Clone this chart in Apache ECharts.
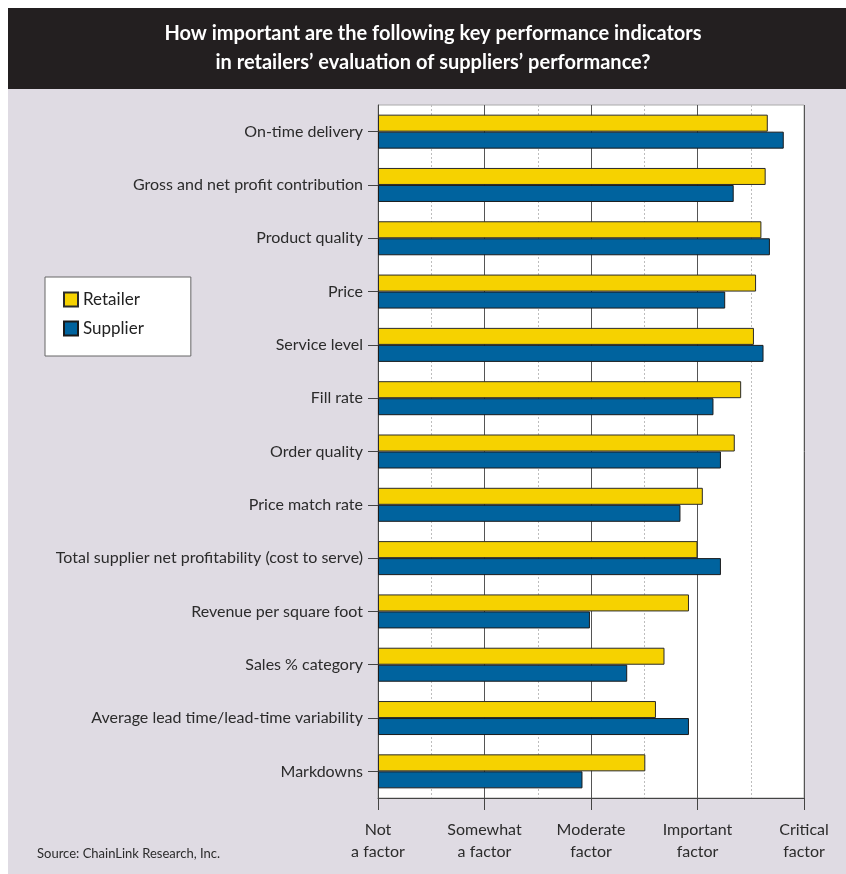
<!DOCTYPE html>
<html>
<head>
<meta charset="utf-8">
<script src="https://cdn.jsdelivr.net/npm/echarts@6/dist/echarts.min.js"></script>
<style>
  html, body { margin: 0; padding: 0; background: #fff; }
  #main { width: 846px; height: 874px; }
</style>
</head>
<body>
<div id="main"></div>
<script>
// data (0 = Not a factor ... 4 = Critical factor)
var categories = [
    'On-time delivery',
    'Gross and net profit contribution',
    'Product quality',
    'Price',
    'Service level',
    'Fill rate',
    'Order quality',
    'Price match rate',
    'Total supplier net profitability (cost to serve)',
    'Revenue per square foot',
    'Sales % category',
    'Average lead time/lead-time variability',
    'Markdowns'
];
var retailer = [3.66, 3.64, 3.60, 3.55, 3.53, 3.41, 3.35, 3.05, 3.00, 2.92, 2.69, 2.61, 2.51];
var supplier = [3.81, 3.34, 3.68, 3.26, 3.62, 3.15, 3.22, 2.84, 3.22, 1.99, 2.34, 2.92, 1.92];
var scaleLabels = ['Not\na factor', 'Somewhat\na factor', 'Moderate\nfactor', 'Important\nfactor', 'Critical\nfactor'];

var FONT = 'Lato, "DejaVu Sans", sans-serif';
var chart = echarts.init(document.getElementById('main'));

var option = {
    backgroundColor: '#dfdbe3',
    textStyle: { fontFamily: FONT },
    animation: false,
    graphic: [
        { type: 'rect', left: 0, top: 0, shape: { width: 846, height: 8 }, style: { fill: '#fff' } },
        { type: 'rect', left: 0, top: 0, shape: { width: 8, height: 874 }, style: { fill: '#fff' } },
        { type: 'rect', left: 8, top: 8, shape: { width: 838, height: 81 }, style: { fill: '#231f20' } },
        {
            type: 'text', x: 433, y: 19,
            style: {
                text: 'How important are the following key performance indicators\nin retailers\u2019 evaluation of suppliers\u2019 performance?',
                fill: '#fff', font: 'bold 20px ' + FONT, textAlign: 'center', lineHeight: 29
            }
        },
        {
            type: 'text', x: 37, y: 847,
            style: { text: 'Source: ChainLink Research, Inc.', fill: '#2b2b2b', font: '13px ' + FONT }
        }
    ],
    legend: {
        left: 45, top: 277,
        orient: 'vertical',
        icon: 'rect',
        itemWidth: 14, itemHeight: 14, itemGap: 12,
        padding: [14, 47, 19, 18],
        backgroundColor: '#fff',
        borderColor: '#666', borderWidth: 1,
        textStyle: { fontSize: 17, color: '#222', fontFamily: FONT },
        data: ['Retailer', 'Supplier']
    },
    grid: {
        left: 378, right: 42, top: 105, bottom: 76,
        show: true, backgroundColor: '#fff', borderColor: '#aaa', borderWidth: 1
    },
    xAxis: [
        {
            type: 'value', min: 0, max: 4, interval: 1,
            axisLine: { show: true, lineStyle: { color: '#444', width: 1 } },
            axisTick: { show: true, length: 12, lineStyle: { color: '#444' } },
            axisLabel: {
                margin: 21, fontSize: 16, lineHeight: 22, color: '#2b2b2b',
                formatter: function (v) { return scaleLabels[Math.round(v)]; }
            },
            splitLine: { show: true, lineStyle: { color: '#555', width: 1 } }
        },
        {
            type: 'value', min: 0, max: 4, interval: 0.5, position: 'bottom',
            axisLine: { show: false }, axisTick: { show: false }, axisLabel: { show: false },
            splitLine: { show: true, lineStyle: { color: ['rgba(0,0,0,0)', '#bdbdbd'], type: [2, 2], width: 1 } }
        }
    ],
    yAxis: {
        type: 'category',
        data: categories,
        inverse: true,
        axisLine: { show: true, lineStyle: { color: '#444' } },
        axisTick: { show: true, alignWithLabel: true, length: 10, lineStyle: { color: '#444' } },
        axisLabel: { margin: 15, fontSize: 16, color: '#2b2b2b' }
    },
    series: [
        {
            name: 'Retailer', type: 'bar', data: retailer, xAxisIndex: 0,
            barWidth: 17, barGap: '0%',
            itemStyle: { color: '#f6d200', borderColor: '#2a2a2a', borderWidth: 1 }
        },
        {
            name: 'Supplier', type: 'bar', data: supplier, xAxisIndex: 0,
            barWidth: 17, barGap: '0%',
            itemStyle: { color: '#00639e', borderColor: '#1a1a1a', borderWidth: 1 }
        }
    ]
};

chart.setOption(option);
</script>
</body>
</html>
